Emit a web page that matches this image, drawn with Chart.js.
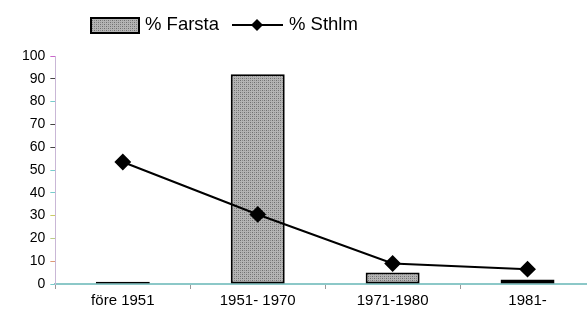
<!DOCTYPE html>
<html lang="sv">
<head>
  <meta charset="UTF-8">
  <title>Farsta / Sthlm</title>
  <script src="https://cdn.jsdelivr.net/npm/chart.js"></script>
  <style>
    body { margin: 0; background: #fff; overflow: hidden; }
  </style>
</head>
<body>
  <canvas id="chart" width="604" height="313"></canvas>
  <script>
    const kategorier = ['före 1951', '1951- 1970', '1971-1980', '1981-'];
    const farsta = [1, 92, 5, 2];
    const sthlm = [53.5, 30.5, 9, 6.5];
    const yTicks = [0, 10, 20, 30, 40, 50, 60, 70, 80, 90, 100];

    const font = '"Liberation Sans", Arial, sans-serif';

    // grått prickmönster som i originalet
    function makePattern() {
      const c = document.createElement('canvas');
      c.width = 4; c.height = 4;
      const g = c.getContext('2d');
      g.fillStyle = '#b4b4b4';
      g.fillRect(0, 0, 4, 4);
      g.fillStyle = '#6e6e6e';
      g.fillRect(0, 0, 1, 1);
      g.fillRect(2, 2, 1, 1);
      g.fillStyle = '#8a8a8a';
      g.fillRect(2, 0, 1, 1);
      g.fillRect(0, 2, 1, 1);
      return g.createPattern(c, 'repeat');
    }
    const pattern = makePattern();

    function diamond(ctx, x, y, r) {
      ctx.beginPath();
      ctx.moveTo(x, y - r);
      ctx.lineTo(x + r, y);
      ctx.lineTo(x, y + r);
      ctx.lineTo(x - r, y);
      ctx.closePath();
      ctx.fill();
    }

    const legendPlugin = {
      id: 'egenLegend',
      afterDraw(chart) {
        const ctx = chart.ctx;
        ctx.save();
        ctx.fillStyle = pattern;
        ctx.fillRect(91, 18, 48, 15);
        ctx.strokeStyle = '#000';
        ctx.lineWidth = 2;
        ctx.strokeRect(91, 18, 48, 15);
        ctx.fillStyle = '#000';
        ctx.font = '18.5px ' + font;
        ctx.textBaseline = 'middle';
        ctx.fillText('% Farsta', 145, 25);
        ctx.beginPath();
        ctx.moveTo(232, 25);
        ctx.lineTo(283, 25);
        ctx.lineWidth = 2;
        ctx.stroke();
        diamond(ctx, 257, 25, 6);
        ctx.fillText('% Sthlm', 289, 25);
        ctx.restore();
      }
    };

    // färgade tickmarkeringar som i förlagan
    const yTickColors = ['#7cc', '#d97', '#bc8', '#cc6', '#7cc', '#7cc', '#444', '#444', '#7cc', '#444', '#c6c'];

    new Chart(document.getElementById('chart'), {
      data: {
        labels: kategorier,
        datasets: [
          {
            type: 'line',
            label: '% Sthlm',
            data: sthlm,
            borderColor: '#000',
            backgroundColor: '#000',
            borderWidth: 2,
            pointStyle: 'rectRot',
            pointRadius: 7,
            pointHoverRadius: 7,
            tension: 0,
            order: 0
          },
          {
            type: 'bar',
            label: '% Farsta',
            data: farsta,
            backgroundColor: pattern,
            borderColor: '#000',
            borderWidth: 2,
            borderSkipped: false,
            barPercentage: 0.4,
            categoryPercentage: 1,
            order: 1
          }
        ]
      },
      options: {
        responsive: false,
        animation: false,
        layout: { padding: { top: 56, right: 0, left: 17, bottom: 0 } },
        plugins: { legend: { display: false }, tooltip: { enabled: false } },
        scales: {
          x: {
            offset: true,
            grid: { drawOnChartArea: false, offset: true, tickLength: 5, color: '#9a9', tickColor: '#999' },
            border: { color: '#8cc8c8', width: 2 },
            ticks: { color: '#000', font: { family: font, size: 15 }, padding: 3, maxRotation: 0 }
          },
          y: {
            min: 0,
            max: 100,
            afterBuildTicks(axis) { axis.ticks = yTicks.map(v => ({ value: v })); },
            grid: {
              drawOnChartArea: false,
              tickLength: 5,
              tickColor: ctx => yTickColors[ctx.index] || '#444'
            },
            border: { color: '#c9b7d6', width: 1 },
            ticks: { color: '#000', font: { family: font, size: 14 }, padding: 5 }
          }
        }
      },
      plugins: [legendPlugin]
    });
  </script>
</body>
</html>
